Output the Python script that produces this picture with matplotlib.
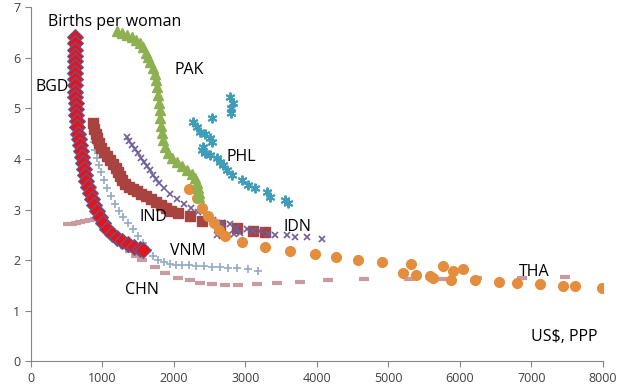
import matplotlib.pyplot as plt

# GDP per capita (US$, PPP) vs births per woman
bgd_x = [615, 615, 615, 615, 615, 615, 615, 615, 615, 615, 615, 629, 629, 629, 643, 643,
         657, 671, 685, 699, 713, 727, 741, 755, 769, 797, 825, 853, 881, 923, 965, 1007,
         1063, 1133, 1203, 1273, 1357, 1441, 1524, 1566]
bgd_y = [6.40, 6.28, 6.16, 6.04, 5.93, 5.81, 5.69, 5.57, 5.45, 5.33, 5.22, 5.10, 4.98, 4.86,
         4.74, 4.62, 4.50, 4.39, 4.27, 4.15, 4.03, 3.92, 3.80, 3.68, 3.56, 3.44, 3.32, 3.21,
         3.09, 2.97, 2.85, 2.73, 2.61, 2.51, 2.44, 2.38, 2.32, 2.26, 2.22, 2.20]

pak_x = [1203, 1273, 1343, 1413, 1469, 1524, 1566, 1608, 1636, 1664, 1706, 1734, 1748, 1762,
         1776, 1790, 1804, 1804, 1818, 1832, 1846, 1874, 1916, 1972, 2042, 2112, 2182, 2252,
         2294, 2322, 2336, 2350, 2350]
pak_y = [6.52, 6.48, 6.44, 6.40, 6.34, 6.28, 6.20, 6.10, 6.01, 5.91, 5.79, 5.67, 5.55, 5.41,
         5.26, 5.10, 4.96, 4.80, 4.64, 4.51, 4.37, 4.23, 4.11, 4.01, 3.94, 3.86, 3.78, 3.70,
         3.62, 3.52, 3.42, 3.32, 3.24]

phl_x = [2790, 2830, 2800, 2800, 2530, 2266, 2322, 2364, 2434, 2503, 2531, 2406, 2392, 2434,
         2503, 2601, 2643, 2685, 2741, 2811, 2951, 3035, 3133, 3301, 3343, 3552, 3594]
phl_y = [5.22, 5.10, 5.00, 4.90, 4.80, 4.72, 4.63, 4.53, 4.50, 4.41, 4.33, 4.23, 4.17, 4.11,
         4.07, 4.01, 3.94, 3.88, 3.78, 3.68, 3.58, 3.48, 3.42, 3.34, 3.24, 3.18, 3.13]

ind_x = [867, 881, 909, 923, 951, 979, 1021, 1063, 1105, 1147, 1189, 1217, 1245, 1273, 1315,
         1371, 1427, 1483, 1538, 1608, 1678, 1748, 1818, 1888, 1958, 2056, 2224, 2392, 2643,
         2881, 3105, 3273]
ind_y = [4.70, 4.60, 4.50, 4.41, 4.31, 4.21, 4.13, 4.05, 3.97, 3.90, 3.82, 3.74, 3.66, 3.58,
         3.50, 3.44, 3.40, 3.36, 3.30, 3.26, 3.21, 3.15, 3.09, 3.03, 2.97, 2.93, 2.87, 2.77,
         2.69, 2.63, 2.57, 2.55]

idn_x = [1343, 1371, 1413, 1455, 1497, 1538, 1580, 1622, 1664, 1706, 1748, 1790, 1860, 1944,
         2042, 2140, 2238, 2336, 2448, 2545, 2671, 2783, 2867, 2601, 2671, 2755, 2839, 2923,
         3021, 3105, 3203, 3315, 3413, 3580, 3692, 3860, 4070]
idn_y = [4.43, 4.35, 4.27, 4.19, 4.11, 4.01, 3.93, 3.86, 3.78, 3.68, 3.60, 3.52, 3.42, 3.30,
         3.21, 3.11, 3.03, 2.95, 2.87, 2.79, 2.73, 2.71, 2.63, 2.50, 2.48, 2.50, 2.51, 2.53,
         2.61, 2.57, 2.57, 2.51, 2.50, 2.50, 2.46, 2.46, 2.42]

tha_x = [2210, 2322, 2392, 2475, 2559, 2629, 2713, 2951, 3273, 3622, 3972, 4266, 4573, 4909,
         5315, 5203, 5385, 5580, 5622, 5762, 5902, 6042, 5874, 6210, 6545, 6797, 7119, 7441,
         7608, 7986]
tha_y = [3.40, 3.22, 3.03, 2.87, 2.73, 2.59, 2.48, 2.36, 2.26, 2.18, 2.12, 2.06, 2.00, 1.96,
         1.92, 1.75, 1.71, 1.69, 1.65, 1.88, 1.79, 1.82, 1.61, 1.61, 1.57, 1.55, 1.53, 1.49,
         1.49, 1.45]

vnm_x = [881, 895, 923, 951, 979, 1021, 1063, 1119, 1175, 1231, 1287, 1357, 1427, 1497, 1566,
         1636, 1706, 1776, 1860, 1944, 2028, 2112, 2210, 2308, 2420, 2531, 2643, 2755, 2881,
         3035, 3175]
vnm_y = [4.33, 4.17, 4.01, 3.88, 3.74, 3.58, 3.42, 3.26, 3.10, 2.97, 2.85, 2.73, 2.61, 2.48,
         2.34, 2.20, 2.08, 2.00, 1.96, 1.92, 1.90, 1.90, 1.90, 1.88, 1.88, 1.86, 1.86, 1.84,
         1.84, 1.82, 1.79]

chn_x = [517, 573, 629, 685, 755, 825, 895, 965, 1021, 1077, 1133, 1189, 1245, 1315, 1385,
         1469, 1552, 1734, 1874, 2056, 2224, 2364, 2531, 2713, 2895, 3161, 3441, 3762, 4154,
         4657, 5287, 5762, 6238, 6867, 7469]
chn_y = [2.71, 2.71, 2.73, 2.75, 2.77, 2.79, 2.81, 2.81, 2.71, 2.59, 2.50, 2.42, 2.34, 2.26,
         2.18, 2.08, 2.00, 1.86, 1.75, 1.65, 1.61, 1.55, 1.53, 1.51, 1.51, 1.53, 1.55, 1.57,
         1.61, 1.63, 1.63, 1.63, 1.65, 1.65, 1.67]

labels = {"BGD": (300, 5.41), "PAK": (2210, 5.75), "PHL": (2944, 4.03), "IND": (1720, 2.85),
          "VNM": (2196, 2.18), "CHN": (1552, 1.41), "IDN": (3734, 2.65), "THA": (7042, 1.77)}

plt.rcParams['font.family'] = ['Open Sans', 'DejaVu Sans']

fig = plt.figure(figsize=(6.3, 3.87), dpi=100)
ax = fig.add_axes([0.049, 0.066, 0.908, 0.916])

ax.plot(chn_x, chn_y, ls='none', marker='_', ms=6.5, mew=3, color='#C99AA0')
ax.plot(vnm_x, vnm_y, ls='none', marker='+', ms=6, mew=1.2, color='#94A8C8')
ax.plot(ind_x, ind_y, ls='none', marker='s', ms=6.5, color='#A9433F')
ax.plot(idn_x, idn_y, ls='none', marker='x', ms=5, mew=1.2, color='#6E5F9C')
ax.plot(tha_x, tha_y, ls='none', marker='o', ms=7, color='#E48D3D')
ax.plot(pak_x, pak_y, ls='none', marker='^', ms=6.5, color='#8DB050')
ax.plot(phl_x, phl_y, ls='none', marker=(6, 2, 0), ms=7, mew=1.4, color='#3F9DBA')
ax.plot(bgd_x, bgd_y, ls='none', marker='D', ms=8, mew=0.8, color='#E3151C', mec='#5B5F9A')

for name, (x, y) in labels.items():
    ax.text(x, y, name, fontsize=11.5, ha='center', va='center')
ax.text(238, 6.70, "Births per woman", fontsize=11.5, ha='left', va='center')
ax.text(7455, 0.48, "US$, PPP", fontsize=11.5, ha='center', va='center')

ax.set_xlim(0, 8000)
ax.set_ylim(0, 7)
ax.set_xticks(range(0, 8001, 1000))
ax.set_yticks(range(0, 8))
for s in ['top', 'right']:
    ax.spines[s].set_visible(False)
for s in ['left', 'bottom']:
    ax.spines[s].set_color('#868686')
ax.tick_params(colors='#868686', labelcolor='#404040', labelsize=9, length=4)

fig.savefig('out.png')
